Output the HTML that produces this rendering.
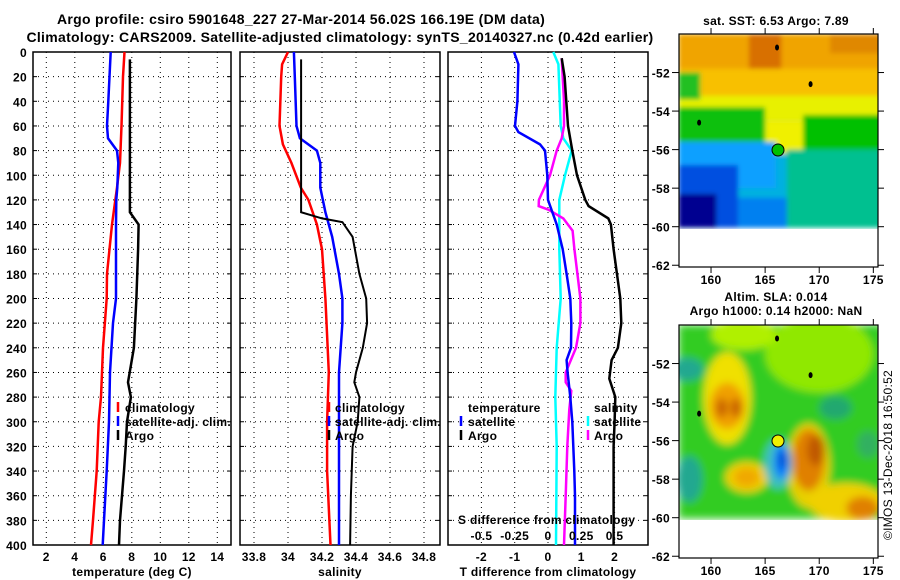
<!DOCTYPE html>
<html><head><meta charset="utf-8"><style>
body{margin:0;background:#fff}
svg{display:block;font-family:"Liberation Sans",Arial,sans-serif;font-weight:bold}
text{letter-spacing:0.3px}
</style></head><body>
<svg id="c" width="900" height="580" viewBox="0 0 900 580">
<defs>
<filter id="bl" x="-5%" y="-5%" width="110%" height="110%"><feGaussianBlur stdDeviation="4"/></filter>
<filter id="bl2" x="-5%" y="-5%" width="110%" height="110%"><feGaussianBlur stdDeviation="2.5"/></filter>
<clipPath id="cp1"><rect x="679" y="34" width="199" height="195"/></clipPath>
<clipPath id="cp2"><rect x="679" y="325" width="199" height="195"/></clipPath>
</defs>
<text x="57" y="24" font-size="14">Argo profile: csiro 5901648_227 27-Mar-2014 56.02S 166.19E (DM data)</text>
<text x="340" y="42" font-size="14" text-anchor="middle">Climatology: CARS2009. Satellite-adjusted climatology: synTS_20140327.nc (0.42d earlier)</text>
<g id="g"></g>
<text x="776" y="25" font-size="12" text-anchor="middle">sat. SST: 6.53 Argo: 7.89</text>
<text x="776" y="301" font-size="12" text-anchor="middle">Altim. SLA: 0.014</text>
<text x="776" y="315" font-size="12" text-anchor="middle">Argo h1000: 0.14 h2000: NaN</text>
<text transform="translate(892,455) rotate(-90)" font-size="12" font-weight="normal" text-anchor="middle">©IMOS 13-Dec-2018 16:50:52</text>
</svg>
<script>
// ---- data ----
const tClimDepth=[0,20,60,90,110,140,180,200,240,280,300,340,380,400];
const tClimVal=[7.49,7.38,7.28,7.17,6.96,6.61,6.26,6.24,5.98,5.84,5.68,5.54,5.28,5.14];
const tSatDepth=[0,40,60,70,80,90,110,120,140,190,200,220,260,300,340,380,400];
const tSatVal=[6.52,6.35,6.26,6.33,6.96,7.05,6.98,6.91,6.89,6.89,6.89,6.68,6.47,6.40,6.24,6.05,5.96];
const tArgoDepth=[6,130,140,160,200,240,268,280,300,320,340,380,400];
const tArgoVal=[7.87,7.87,8.48,8.44,8.32,8.15,7.73,7.94,7.66,7.57,7.45,7.17,7.10];
const sClimDepth=[0,10,20,60,75,90,110,120,140,160,180,200,260,300,340,400];
const sClimVal=[34.0,33.965,33.96,33.95,33.97,34.02,34.075,34.12,34.17,34.2,34.21,34.22,34.24,34.23,34.23,34.25];
const sSatDepth=[0,20,60,70,80,90,110,130,150,180,200,220,260,400];
const sSatVal=[34.035,34.04,34.05,34.07,34.17,34.19,34.19,34.22,34.26,34.3,34.32,34.32,34.30,34.30];
const sArgoDepth=[6,130,135,138,150,180,200,220,240,260,268,280,300,320,360,400];
const sArgoVal=[34.077,34.077,34.2,34.32,34.38,34.42,34.46,34.465,34.44,34.40,34.39,34.42,34.41,34.38,34.37,34.365];
const dTSatDepth=[0,10,40,60,65,75,80,100,120,140,160,180,200,220,240,250,260,280,300,320,340,360,400];
const dTSatVal=[-1.02,-0.89,-0.92,-0.99,-0.89,-0.24,-0.09,-0.02,0,0.26,0.44,0.56,0.67,0.7,0.69,0.56,0.59,0.67,0.73,0.76,0.79,0.81,0.81];
const dTArgoDepth=[5,20,40,60,80,100,120,125,135,140,160,200,220,240,250,265,280,300,320,400];
const dTArgoVal=[0.41,0.5,0.55,0.6,0.73,0.87,1.12,1.22,1.81,1.89,1.97,2.17,2.2,2.1,1.91,1.84,2.02,2.0,1.97,1.97];
const dSSatDepth=[0,10,60,70,80,100,120,140,160,180,200,240,280,320,400];
const dSSatVal=[0.04,0.078,0.095,0.115,0.178,0.128,0.085,0.085,0.085,0.09,0.095,0.065,0.055,0.065,0.06];
const dSArgoDepth=[5,40,60,70,80,100,120,125,128,135,145,160,200,220,240,260,268,275,290,320,360,400];
const dSArgoVal=[0.103,0.12,0.12,0.103,0.065,0.015,-0.068,-0.07,0.005,0.115,0.185,0.198,0.243,0.243,0.21,0.133,0.133,0.175,0.16,0.145,0.133,0.12];
const depthTicks=[0,20,40,60,80,100,120,140,160,180,200,220,240,260,280,300,320,340,360,380,400];
const tTicks=[2,4,6,8,10,12,14];
const sTicks=[33.8,34,34.2,34.4,34.6,34.8];
const dTTicks=[-2,-1,0,1,2];
const dSTicks=[-0.5,-0.25,0,0.25,0.5];
const dSTickLabels=["-0.5","-0.25","0","0.25","0.5"];
const latTicks=[-52,-54,-56,-58,-60,-62];
const lonTicks=[160,165,170,175];

const NS='http://www.w3.org/2000/svg';
const G=document.getElementById('g');
function mk(tag,at,par){const e=document.createElementNS(NS,tag);for(const k in at)e.setAttribute(k,at[k]);(par||G).appendChild(e);return e;}
const Y=d=>52+d*1.2325;
const P1={x0:33,x1:231,f:v=>46.3+(v-2)*14.25};
const P2={x0:240,x1:440,f:v=>288+(v-34)*170};
const P3={x0:448,x1:648,f:v=>548+v*33.3};
function panel(P,ticks,labels,name,xl){
  const y0=52,y1=545;
  for(const d of depthTicks){const y=Y(d);
    if(d>0&&d<400){const l=mk('line',{x1:P.x0,x2:P.x1,y1:y,y2:y,stroke:'#000','stroke-width':1,'stroke-dasharray':'1 4'});}
    mk('line',{x1:P.x0,x2:P.x0+4,y1:y,y2:y,stroke:'#000'});mk('line',{x1:P.x1-4,x2:P.x1,y1:y,y2:y,stroke:'#000'});
  }
  ticks.forEach((t,i)=>{const x=P.f(t);
    const l=mk('line',{x1:x,x2:x,y1:y0,y2:y1,stroke:'#000','stroke-dasharray':'1 4'});
    const tx=mk('text',{x:x,y:561,'font-size':12,'text-anchor':'middle'});tx.textContent=labels[i];
    
  });
  const r=mk('rect',{x:P.x0,y:y0,width:P.x1-P.x0,height:y1-y0,fill:'none',stroke:'#000','stroke-width':1.5});
  
  const t=mk('text',{x:(P.x0+P.x1)/2,y:576,'font-size':12,'text-anchor':'middle'});t.textContent=xl;
  
}
function line(P,ds,vs,col,w,name,sc){
  const pts=ds.map((d,i)=>P.f(vs[i]*(sc||1)).toFixed(1)+','+Y(d).toFixed(1)).join(' ');
  const l=mk('polyline',{points:pts,fill:'none',stroke:col,'stroke-width':w});
  
}
function txt(x,y,s,name,extra){const t=mk('text',Object.assign({x:x,y:y,'font-size':12},extra||{}));t.textContent=s;return t;}
function mark(x,y,col,name){const l=mk('line',{x1:x,x2:x,y1:y-10,y2:y,stroke:col,'stroke-width':2.5});}

depthTicks.forEach(d=>txt(27,Y(d)+5,String(d),'depth-tick-label',{'text-anchor':'end'}));
panel(P1,tTicks,tTicks.map(String),'temperature-panel','temperature (deg C)');
panel(P2,sTicks,sTicks.map(String),'salinity-panel','salinity');
panel(P3,dTTicks,dTTicks.map(String),'difference-panel','T difference from climatology');

line(P1,tClimDepth,tClimVal,'#f00',2.5,'temp-climatology-line');
line(P1,tSatDepth,tSatVal,'#00f',2.5,'temp-satellite-line');
line(P1,tArgoDepth,tArgoVal,'#000',2.5,'temp-argo-line');
line(P2,sClimDepth,sClimVal,'#f00',2.5,'sal-climatology-line');
line(P2,sSatDepth,sSatVal,'#00f',2.5,'sal-satellite-line');
line(P2,sArgoDepth,sArgoVal,'#000',2,'sal-argo-line');
line(P3,dSSatDepth,dSSatVal,'#0ff',2.5,'sdiff-satellite-line',4);
line(P3,dSArgoDepth,dSArgoVal,'#f0f',2.5,'sdiff-argo-line',4);
line(P3,dTSatDepth,dTSatVal,'#00f',2.5,'tdiff-satellite-line');
line(P3,dTArgoDepth,dTArgoVal,'#000',2.5,'tdiff-argo-line');

// legends
[[118,'#f00','climatology'],[118,'#00f','satellite-adj. clim.'],[118,'#000','Argo']].forEach((a,i)=>{mark(a[0],412+i*14,a[1],'legend-marker');txt(125,412+i*14,a[2],'temp-legend-entry');});
[[329,'#f00','climatology'],[329,'#00f','satellite-adj. clim.'],[329,'#000','Argo']].forEach((a,i)=>{mark(a[0],412+i*14,a[1],'legend-marker');txt(335,412+i*14,a[2],'sal-legend-entry');});
txt(468,412,'temperature','diff-legend-temp-title');
mark(461,426,'#00f','legend-marker');txt(468,426,'satellite','diff-legend-temp-sat');
mark(461,440,'#000','legend-marker');txt(468,440,'Argo','diff-legend-temp-argo');
txt(594,412,'salinity','diff-legend-sal-title');
mark(588,426,'#0ff','legend-marker');txt(594,426,'satellite','diff-legend-sal-sat');
mark(588,440,'#f0f','legend-marker');txt(594,440,'Argo','diff-legend-sal-argo');
txt(458,524,'S difference from climatology','s-diff-axis-title');
dSTicks.forEach((s,i)=>txt(P3.f(s*4),540,dSTickLabels[i],'s-diff-tick-label',{'text-anchor':'middle'}));

// maps
const MX=lon=>679+(lon-157.04)*10.82;
function map(oy,name,shapes,blur,circFill){
  const g=mk('g',{'clip-path':'url(#'+(oy?'cp2':'cp1')+')'});
  
  const inner=mk('g',{filter:'url(#'+blur+')'},g);
  const MY=lat=>oy+34+(-50-lat)*19.27;
  shapes.forEach(s=>{
    if(s[0]==='r')mk('rect',{x:MX(s[1]),y:MY(s[2]),width:MX(s[3])-MX(s[1]),height:MY(s[4])-MY(s[2]),fill:s[5]},inner);
    else mk('ellipse',{cx:MX(s[1]),cy:MY(s[2]),rx:s[3]*10.82,ry:s[4]*19.27,fill:s[5]},inner);
  });
  [[166.1,-50.7],[169.2,-52.6],[158.9,-54.6]].forEach(p=>mk('ellipse',{cx:MX(p[0]),cy:MY(p[1]),rx:2,ry:3,fill:'#000'}));
  const c=mk('circle',{cx:MX(166.19),cy:MY(-56.02),r:6,fill:circFill,stroke:'#000','stroke-width':1});
  
  const fr=mk('rect',{x:679,y:oy+34,width:199,height:233,fill:'none',stroke:'#000','stroke-width':1.2});
  
  latTicks.forEach(l=>{const y=MY(l);mk('line',{x1:672,x2:679,y1:y,y2:y,stroke:'#000'});mk('line',{x1:878,x2:884,y1:y,y2:y,stroke:'#000'});
    txt(670,y+5,String(l),'lat-tick-label',{'text-anchor':'end'});});
  lonTicks.forEach(l=>{const x=MX(l);mk('line',{x1:x,x2:x,y1:oy+267,y2:oy+273,stroke:'#000'});mk('line',{x1:x,x2:x,y1:oy+28,y2:oy+34,stroke:'#000'});
    txt(x,oy+284,String(l),'lon-tick-label',{'text-anchor':'middle'});});
}
map(0,'sst-map',[
 ['r',157,-50,176,-60.05,'#00b0e0'],
 ['r',157,-50,176,-53.3,'#f0a400'],
 ['r',163.5,-50,166.5,-52.2,'#d87000'],
 ['r',171,-50,176,-51,'#e08800'],
 ['r',157,-51.8,176,-53.2,'#f8c000'],
 ['r',157,-53.2,176,-54.5,'#e8f000'],
 ['r',165,-54.5,170,-56.2,'#f0f000'],
 ['r',157,-52,159,-53.4,'#20c020'],
 ['r',157,-53.8,165,-55.6,'#10c010'],
 ['r',168.5,-54.2,176,-57.5,'#00c000'],
 ['r',167,-56,176,-60.05,'#00c090'],
 ['r',157,-55.6,166,-58,'#10a0ff'],
 ['r',157,-56.8,162.5,-60.05,'#0050e0'],
 ['r',157,-58.3,160.5,-60.05,'#000090'],
 ['r',162.5,-58.5,167,-60.05,'#0080f0']
],'bl2','#00c000');
map(291,'sla-map',[
 ['r',157,-50,176,-60.05,'#30cc20'],
 ['e',170,-51.5,5,2,'#90e800'],
 ['e',163,-50.5,3,0.8,'#b0f000'],
 ['e',161.5,-53.8,2.2,2.4,'#f0e000'],
 ['e',161.5,-54.2,1.6,1.2,'#f0a000'],
 ['e',161,-54.3,0.5,0.5,'#c86000'],
 ['e',162.3,-54.3,0.5,0.5,'#c86000'],
 ['e',157.8,-52.3,1.5,0.6,'#20a890'],
 ['e',158,-58,1.2,1.2,'#20a890'],
 ['e',171.5,-54.3,1.5,0.6,'#20a870'],
 ['e',174.5,-56.2,1,0.7,'#30b060'],
 ['e',163.3,-57.9,2,0.8,'#f0d000'],
 ['e',163.3,-57.9,1.2,0.5,'#f0a800'],
 ['e',169,-57.3,2,2.2,'#e8d000'],
 ['e',169,-57,1.5,1.6,'#e08000'],
 ['e',169.7,-56.5,0.8,0.8,'#c05800'],
 ['e',172.5,-59.2,3.5,1,'#f0d000'],
 ['e',174,-59.5,1.5,0.6,'#e08000'],
 ['e',166.2,-57.2,1.3,1.3,'#40c0c0'],
 ['e',166.5,-57.1,0.7,0.9,'#0080ff'],
 ['e',166.6,-57,0.35,0.5,'#0040d0']
],'bl','#f0f000');
</script>
</body></html>
